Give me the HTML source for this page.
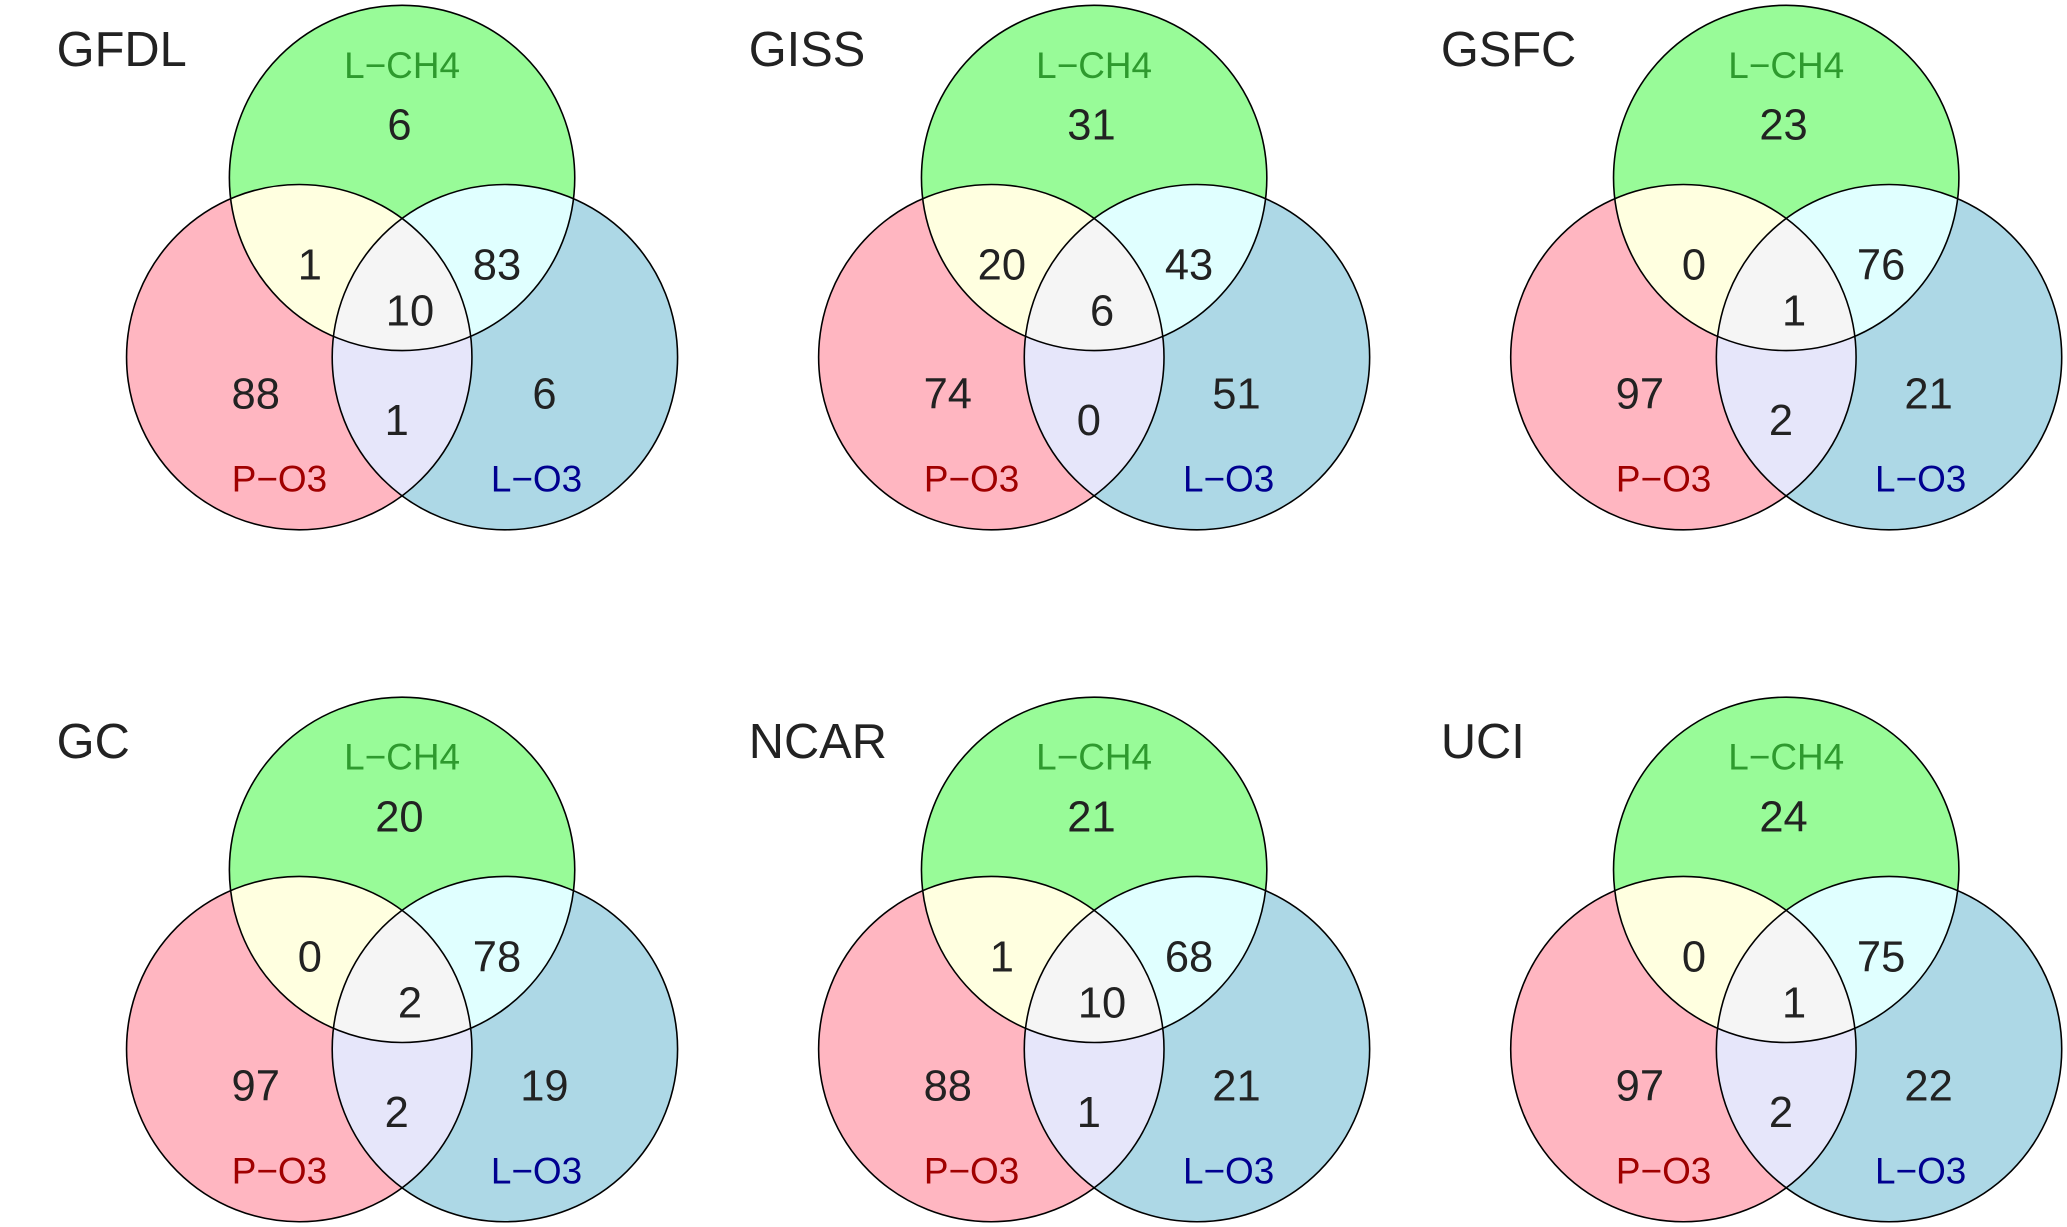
<!DOCTYPE html>
<html><head><meta charset="utf-8"><style>
html,body{margin:0;padding:0;background:#fff;}
svg{display:block;}
text{font-family:"Liberation Sans",sans-serif;}
</style></head><body>
<svg id="chart" width="2067" height="1227" viewBox="0 0 1568 931" preserveAspectRatio="none" xmlns="http://www.w3.org/2000/svg"></svg>
<script>
const models = ["GFDL","GISS","GSFC","GC","NCAR","UCI"];
const onlyCH4 = [6,31,23,20,21,24];
const pCH4 = [1,20,0,0,1,0];
const ch4L = [83,43,76,78,68,75];
const allThree = [10,6,1,2,10,1];
const onlyP = [88,74,97,97,88,97];
const pL = [1,0,2,2,1,2];
const onlyL = [6,51,21,19,21,22];

const svg = document.getElementById('chart');
const NS = 'http://www.w3.org/2000/svg';
const R = 131;
function mk(tag, attrs, parent){
  const e = document.createElementNS(NS, tag);
  for (const k in attrs) e.setAttribute(k, attrs[k]);
  (parent||svg).appendChild(e);
  return e;
}
const defs = mk('defs', {});
models.forEach((m, i) => {
  const ox = (i % 3) * 525, oy = Math.floor(i / 3) * 525;
  const T = [ox + 305, oy + 135], L = [ox + 227, oy + 271], Rt = [ox + 383, oy + 271];
  const g = mk('g', {});
  
  
  ['T','L','R'].forEach((n, j) => {
    const c = [T, L, Rt][j];
    const cp = mk('clipPath', {id: 'c' + n + i}, defs);
    mk('circle', {cx: c[0], cy: c[1], r: R}, cp);
  });
  const cpTL = mk('clipPath', {id: 'cTL' + i, 'clip-path': 'url(#cT' + i + ')'}, defs);
  mk('circle', {cx: L[0], cy: L[1], r: R}, cpTL);
  const c1 = mk('circle', {cx: T[0], cy: T[1], r: R, fill: '#98FB98'}, g);
  
  
  const c2 = mk('circle', {cx: L[0], cy: L[1], r: R, fill: '#FFB6C1'}, g);
  
  
  const c3 = mk('circle', {cx: Rt[0], cy: Rt[1], r: R, fill: '#ADD8E6'}, g);
  
  
  mk('circle', {cx: L[0], cy: L[1], r: R, fill: '#FFFFE0', 'clip-path': 'url(#cT' + i + ')'}, g);
  mk('circle', {cx: Rt[0], cy: Rt[1], r: R, fill: '#E0FFFF', 'clip-path': 'url(#cT' + i + ')'}, g);
  mk('circle', {cx: Rt[0], cy: Rt[1], r: R, fill: '#E6E6FA', 'clip-path': 'url(#cL' + i + ')'}, g);
  mk('circle', {cx: Rt[0], cy: Rt[1], r: R, fill: '#F5F5F5', 'clip-path': 'url(#cTL' + i + ')'}, g);
  [T, L, Rt].forEach(c => mk('circle', {cx: c[0], cy: c[1], r: R, fill: 'none', stroke: '#000', 'stroke-width': 1.2}, g));
  const t = mk('text', {x: ox + 43, y: oy + 50, 'font-size': 37, fill: '#222'}, g);
  t.textContent = m;
  
  
  const labs = [['L\u2212CH4', 305, 59, '#2E9A2E', 'label-l-ch4'], ['P\u2212O3', 212, 373, '#A00000', 'label-p-o3'], ['L\u2212O3', 407, 373, '#000090', 'label-l-o3']];
  labs.forEach(a => {
    const e = mk('text', {x: ox + a[1], y: oy + a[2], 'font-size': 28, fill: a[3], 'text-anchor': 'middle'}, g);
    e.textContent = a[0];
    
    
  });
  const vals = [[onlyCH4[i], 303, 106], [pCH4[i], 235, 212], [ch4L[i], 377, 212], [allThree[i], 311, 247], [onlyP[i], 194, 310], [pL[i], 301, 330], [onlyL[i], 413, 310]];
  vals.forEach(v => {
    const e = mk('text', {x: ox + v[1], y: oy + v[2], 'font-size': 33, fill: '#222', 'text-anchor': 'middle'}, g);
    e.textContent = v[0];
    
    
  });
});
</script>
</body></html>
